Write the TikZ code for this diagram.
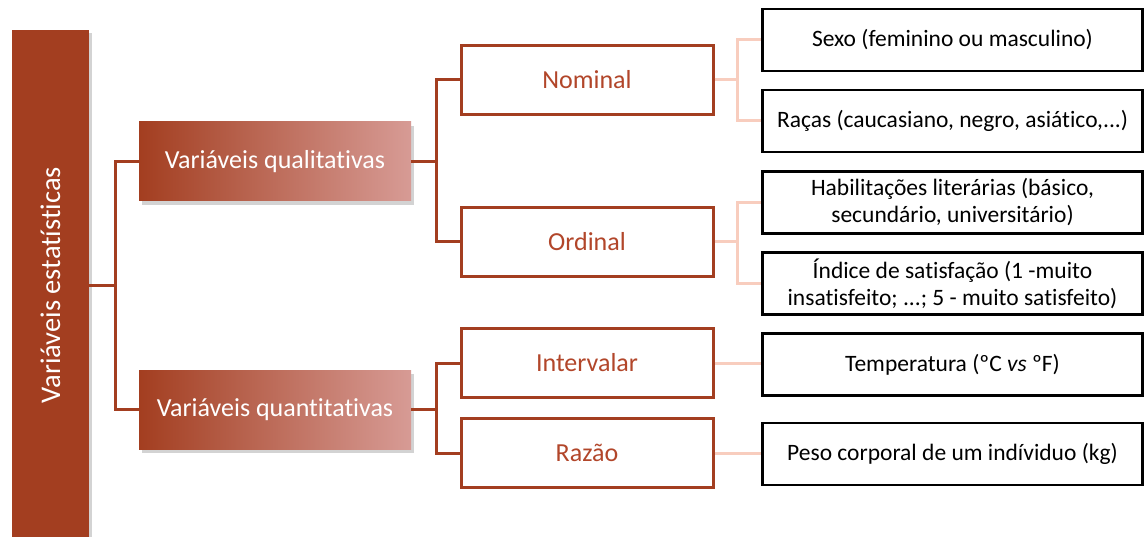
\documentclass[tikz,border=0pt]{standalone}
\usepackage{fontspec}
\setmainfont{Carlito}[Ligatures={NoCommon}]
\usepackage{xcolor}
\definecolor{rust}{RGB}{163, 62, 32}
\definecolor{rosy}{RGB}{215, 155, 149}
\definecolor{peach}{RGB}{248, 205, 190}
\definecolor{rusttext}{RGB}{178, 70, 42}
\usetikzlibrary{shadows}
\tikzset{
  bigtext/.style={font=\fontsize{26}{30}\selectfont},
  smalltext/.style={font=\fontsize{23.5}{27}\selectfont},
  rootbar/.style={fill=rust,text=white,inner sep=0pt,minimum width=77pt,minimum height=507pt,
    drop shadow={shadow xshift=3pt,shadow yshift=-3pt,opacity=0.35}},
  groupbox/.style={bigtext,left color=rust,right color=rosy,text=white,inner sep=0pt,
    minimum width=272pt,minimum height=79pt,
    drop shadow={shadow xshift=3pt,shadow yshift=-4pt,opacity=0.35}},
  kindbox/.style={bigtext,draw=rust,line width=3pt,fill=white,text=rusttext,inner sep=0pt,
    minimum width=252pt,minimum height=69pt},
  examplebox/.style={smalltext,draw=black,line width=2.6pt,fill=white,inner sep=0pt,align=center,
    minimum width=380pt,minimum height=62pt},
  darkline/.style={draw=rust,line width=3pt},
  lightline/.style={draw=peach,line width=3pt},
}

\begin{document}
\begin{tikzpicture}[x=1pt,y=-1pt]
\useasboundingbox (0,0) rectangle (1145,537);
\node[rootbar] (root) at (50.5,283.5) {};
\node[rotate=90,text=white,font=\fontsize{28.5}{32}\selectfont] (roottext) at (50.5,285) {Variáveis estatísticas};
\node[groupbox] (qual) at (275,161.5) {Variáveis qualitativas};
\node[groupbox] (quant) at (275,409.5) {Variáveis quantitativas};
\node[kindbox] (nom) at (587,80) {Nominal};
\node[kindbox] (ord) at (587,242) {Ordinal};
\node[kindbox] (int) at (587,363) {Intervalar};
\node[kindbox] (raz) at (587,453) {Razão};
\node[examplebox] (sexo) at (952.5,40) {Sexo (feminino ou masculino)};
\node[examplebox] (racas) at (952.5,121) {Raças (caucasiano, negro, asiático,...)};
\node[examplebox] (hab) at (952.5,202.5) {Habilitações literárias (básico,\\ secundário, universitário)};
\node[examplebox] (ind) at (952.5,283.5) {Índice de satisfação (1 -muito\\ insatisfeito; ...; 5 - muito satisfeito)};
\node[examplebox] (temp) at (952.5,364.5) {Temperatura (ºC \textit{vs} ºF)};
\node[examplebox] (peso) at (952.5,454) {Peso corporal de um indíviduo (kg)};
\draw[darkline] (root.east |- 0,285) -- (115,285) coordinate (j1);
\draw[darkline] (j1) |- (qual.west);
\draw[darkline] (j1) |- (quant.west);
\draw[darkline] (qual.east) -- (436,161.5) coordinate (j2);
\draw[darkline] (j2) |- (nom.west);
\draw[darkline] (j2) |- (ord.west);
\draw[darkline] (quant.east) -- (436,409.5) coordinate (j3);
\draw[darkline] (j3) |- (int.west);
\draw[darkline] (j3) |- (raz.west);
\draw[lightline] (nom.east) -- (737,80) coordinate (j4);
\draw[lightline] (j4) |- (sexo.west);
\draw[lightline] (j4) |- (racas.west);
\draw[lightline] (ord.east) -- (737,242) coordinate (j5);
\draw[lightline] (j5) |- (hab.west);
\draw[lightline] (j5) |- (ind.west);
\draw[lightline] (int.east) -- (int.east -| temp.west);
\draw[lightline] (raz.east) -- (raz.east -| peso.west);
\end{tikzpicture}
\end{document}
